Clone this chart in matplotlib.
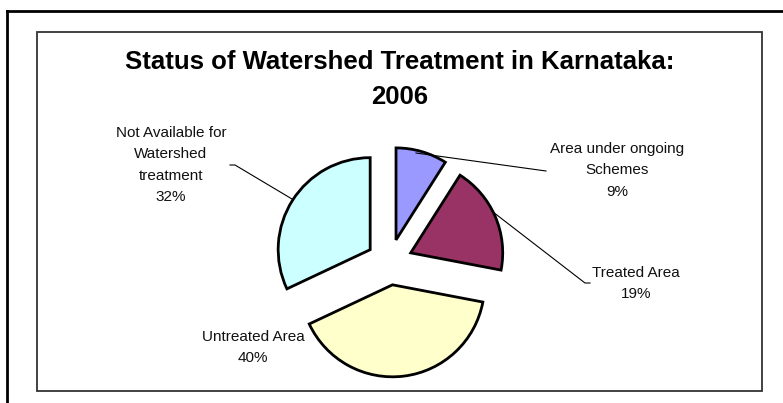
import matplotlib
matplotlib.use("Agg")
import matplotlib.pyplot as plt
from matplotlib.patches import Rectangle
from matplotlib.lines import Line2D

# Données
categories = ["Area under ongoing\nSchemes", "Treated Area", "Untreated Area",
              "Not Available for\nWatershed\ntreatment"]
shares = [9, 19, 40, 32]
colors = ["#9999FF", "#993366", "#FFFFCC", "#CCFFFF"]

W, H = 783, 403
fig = plt.figure(figsize=(W / 100, H / 100), dpi=100)
ax = fig.add_axes([0, 0, 1, 1])
plt.rcParams["font.family"] = ["Liberation Sans", "DejaVu Sans"]

# Camembert éclaté, sens horaire depuis midi (explode en unités pixel)
R = 92
ax.pie(shares, colors=colors, startangle=90, counterclock=False,
       explode=[0.25 * R] * len(shares), radius=R, center=(389.6, H - 262),
       wedgeprops=dict(edgecolor="black", linewidth=2))
ax.set_xlim(0, W)
ax.set_ylim(0, H)
ax.set_aspect("auto")
ax.axis("off")

# Cadres
ax.add_patch(Rectangle((37, H - 391), 725, 359, fill=False,
                       edgecolor="#333333", linewidth=1.3))
ax.add_line(Line2D([7, 7], [0, H - 11], color="black", linewidth=2))
ax.add_line(Line2D([7, W], [H - 11, H - 11], color="black", linewidth=2))

# Titre
ax.text(400, H - 69, "Status of Watershed Treatment in Karnataka:", ha="center",
        va="baseline", fontsize=18.5, fontweight="bold")
ax.text(400, H - 104, "2006", ha="center", va="baseline", fontsize=18.5,
        fontweight="bold")

# Étiquettes
def label(x, ytop, name, pct):
    lines = name.split("\n") + [f"{pct}%"]
    for i, t in enumerate(lines):
        ax.text(x, H - (ytop + 21.3 * i), t, ha="center", va="center",
                fontsize=11, color="#111111")

label(617, 149, categories[0], shares[0])
label(636, 273, categories[1], shares[1])
label(253, 337, categories[2], shares[2])
label(171, 133, categories[3], shares[3])

# Lignes de rappel
lc = dict(color="black", linewidth=0.8)
ax.add_line(Line2D([416, 546], [H - 153, H - 171], **lc))
ax.add_line(Line2D([493, 585, 590], [H - 212, H - 283, H - 283], **lc))
ax.add_line(Line2D([230, 235, 292], [H - 165, H - 165, H - 199], **lc))

fig.savefig("out.png", dpi=100)
